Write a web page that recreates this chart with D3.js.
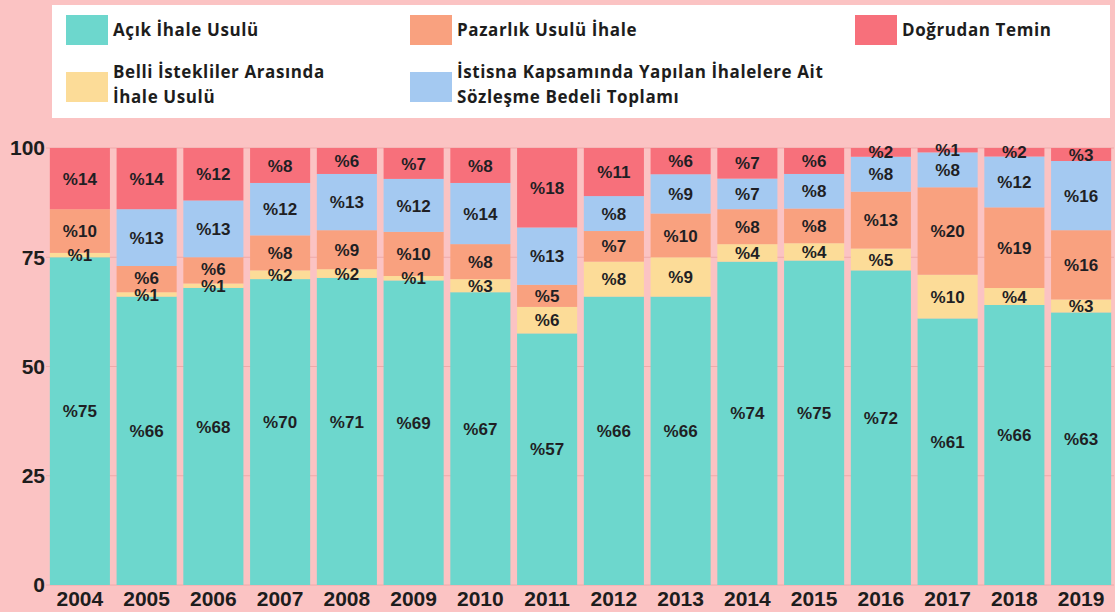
<!DOCTYPE html>
<html>
<head>
<meta charset="utf-8">
<script src="https://cdn.jsdelivr.net/npm/d3@7"></script>
<style>
  html, body { margin: 0; padding: 0; background: #fbc3c3; }
  svg { display: block; }
</style>
</head>
<body>
<div id="chart"></div>
<script>
// Data (percent shares, bottom to top)
const years = ['2004', '2005', '2006', '2007', '2008', '2009', '2010', '2011',
  '2012', '2013', '2014', '2015', '2016', '2017', '2018', '2019'];

const acik      = [75, 66, 68, 70, 71, 69, 67, 57, 66, 66, 74, 75, 72, 61, 66, 63];
const belli     = [1, 1, 1, 2, 2, 1, 3, 6, 8, 9, 4, 4, 5, 10, 4, 3];
const pazarlik  = [10, 6, 6, 8, 9, 10, 8, 5, 7, 10, 8, 8, 13, 20, 19, 16];
const istisna   = [0, 13, 13, 12, 13, 12, 14, 13, 8, 9, 7, 8, 8, 8, 12, 16];
const dogrudan  = [14, 14, 12, 8, 6, 7, 8, 18, 11, 6, 7, 6, 2, 1, 2, 3];

const seriesKeys = ['acik', 'belli', 'pazarlik', 'istisna', 'dogrudan'];
const seriesNames = {
  acik: ['Açık İhale Usulü'],
  pazarlik: ['Pazarlık Usulü İhale'],
  dogrudan: ['Doğrudan Temin'],
  belli: ['Belli İstekliler Arasında', 'İhale Usulü'],
  istisna: ['İstisna Kapsamında Yapılan İhalelere Ait', 'Sözleşme Bedeli Toplamı']
};
const colors = {
  acik: '#6dd7cd',
  belli: '#fcdc98',
  pazarlik: '#f9a17f',
  istisna: '#a4c9f1',
  dogrudan: '#f7707b'
};
const yTicks = [0, 25, 50, 75, 100];

const width = 1115, height = 612;

const rows = years.map((y, i) => ({
  year: y,
  acik: acik[i], belli: belli[i], pazarlik: pazarlik[i],
  istisna: istisna[i], dogrudan: dogrudan[i]
}));

const svg = d3.select('#chart')
  .append('svg')
  .attr('width', width)
  .attr('height', height);

svg.append('rect')
  .attr('width', width)
  .attr('height', height)
  .attr('fill', '#fbc3c3');

const x = d3.scaleBand()
  .domain(years)
  .range([46.5, 1114.5])
  .paddingInner(0.1)
  .paddingOuter(0.05);

const y = d3.scaleLinear()
  .domain([0, 100])
  .range([585, 148]);

// Gridlines
svg.append('g')
  .selectAll('line')
  .data(yTicks)
  .join('line')
  .attr('x1', 46)
  .attr('x2', 1114)
  .attr('y1', d => y(d))
  .attr('y2', d => y(d))
  .attr('stroke', '#eeaaaa')
  .attr('stroke-width', 1);

// Y tick labels
svg.append('g')
  .selectAll('text')
  .data(yTicks)
  .join('text')
  .attr('x', 45)
  .attr('y', d => y(d))
  .attr('dy', '0.35em')
  .attr('text-anchor', 'end')
  .attr('font-family', 'Liberation Sans, Arial, sans-serif')
  .attr('font-size', 21)
  .attr('font-weight', 700)
  .attr('fill', '#1d1d1d')
  .text(d => d);

// Stacked bars, each normalised to 100
const stack = d3.stack()
  .keys(seriesKeys)
  .offset(d3.stackOffsetExpand);

const layers = stack(rows);

const groups = svg.append('g')
  .selectAll('g')
  .data(layers)
  .join('g')
  .attr('fill', d => colors[d.key]);

groups.selectAll('rect')
  .data(d => d.map(p => ({ key: d.key, p })))
  .join('rect')
  .attr('x', d => x(d.p.data.year))
  .attr('width', x.bandwidth())
  .attr('y', d => y(d.p[1] * 100))
  .attr('height', d => Math.max(0, y(d.p[0] * 100) - y(d.p[1] * 100)));

// Segment labels, nudged up so stacked small labels don't collide
const labelData = [];
years.forEach((yr, i) => {
  let prevCy = Infinity;
  layers.forEach(layer => {
    const p = layer[i];
    const v = p.data[layer.key];
    if (!v) return;
    let cy = (y(p[0] * 100) + y(p[1] * 100)) / 2;
    if (layer.key === 'acik') cy -= 10;
    if (cy > prevCy - 17) cy = prevCy - 17;
    prevCy = cy;
    labelData.push({ year: yr, v, cy });
  });
});

svg.append('g')
  .selectAll('text')
  .data(labelData)
  .join('text')
  .attr('x', d => x(d.year) + x.bandwidth() / 2)
  .attr('y', d => d.cy)
  .attr('dy', '0.36em')
  .attr('text-anchor', 'middle')
  .attr('font-family', 'Liberation Sans, Arial, sans-serif')
  .attr('font-size', 17)
  .attr('font-weight', 700)
  .attr('fill', '#1f1f24')
  .text(d => '%' + d.v);

// X labels
svg.append('g')
  .selectAll('text')
  .data(years)
  .join('text')
  .attr('x', d => x(d) + x.bandwidth() / 2)
  .attr('y', 599)
  .attr('dy', '0.35em')
  .attr('text-anchor', 'middle')
  .attr('font-family', 'Liberation Sans, Arial, sans-serif')
  .attr('font-size', 21)
  .attr('font-weight', 700)
  .attr('fill', '#1d1d1d')
  .text(d => d);

// Legend
svg.append('rect')
  .attr('x', 52)
  .attr('y', 5)
  .attr('width', 1058)
  .attr('height', 113)
  .attr('fill', '#ffffff');

const legendItems = [
  { key: 'acik', lx: 66, ly: 15 },
  { key: 'pazarlik', lx: 410, ly: 15 },
  { key: 'dogrudan', lx: 855, ly: 15 },
  { key: 'belli', lx: 66, ly: 72 },
  { key: 'istisna', lx: 410, ly: 72 }
];

const legend = svg.append('g')
  .selectAll('g')
  .data(legendItems)
  .join('g')
  .attr('transform', d => `translate(${d.lx},${d.ly})`);

legend.append('rect')
  .attr('width', 42)
  .attr('height', 30)
  .attr('fill', d => colors[d.key]);

legend.each(function (d) {
  const lines = seriesNames[d.key];
  const t = d3.select(this).append('text')
    .attr('font-family', 'Open Sans, sans-serif')
    .attr('font-size', 17)
    .attr('font-weight', 700)
    .attr('letter-spacing', 0.6)
    .attr('fill', '#1d1d1d');
  lines.forEach((line, i) => {
    t.append('tspan')
      .attr('x', 47)
      .attr('y', lines.length === 1 ? 15 : i * 25)
      .attr('dy', '0.35em')
      .text(line);
  });
});
</script>
</body>
</html>
